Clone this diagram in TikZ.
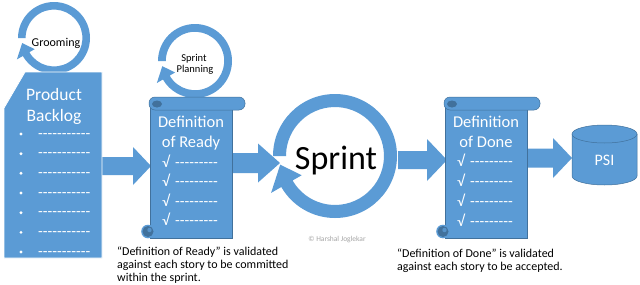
\documentclass[tikz,border=0pt]{standalone}
\usepackage{fontspec}
\setmainfont{Carlito}
\usetikzlibrary{calc}
\definecolor{obl}{HTML}{5B9BD5}
\definecolor{odk}{HTML}{41719C}
\definecolor{cgray}{HTML}{A6A6A6}
\newcommand{\fs}[1]{\fontsize{#1}{#1}\selectfont}
\newcommand{\hy}{-\kern0pt}
\newcommand{\dnine}{\hy\hy\hy\hy\hy\hy\hy\hy\hy}
\newcommand{\deleven}{\hy\hy\hy\hy\hy\hy\hy\hy\hy\hy\hy}
\newcommand{\cyclearrow}[2]{%
  \pgfmathsetmacro{\Ro}{#2}%
  \pgfmathsetmacro{\Ri}{0.79*#2}%
  \pgfmathsetmacro{\Rh}{1.19*#2}%
  \pgfmathsetmacro{\Rl}{0.62*#2}%
  \pgfmathsetmacro{\Rm}{0.895*#2}%
  \fill[obl] ($(#1)+(180:\Ro)$) arc[start angle=180, end angle=510, radius=\Ro]
     -- ($(#1)+(510:\Rh)$) -- ($(#1)+(531:\Rm)$) -- ($(#1)+(510:\Rl)$)
     -- ($(#1)+(510:\Ri)$) arc[start angle=510, end angle=180, radius=\Ri] -- cycle;
}
\newcommand{\blockarrow}[5]{%
  \fill[obl] ($(#1)+(0,-#3)$) -- ($(#2)+(-#5,-#3)$) -- ($(#2)+(-#5,-#4)$) -- (#2)
     -- ($(#2)+(-#5,#4)$) -- ($(#2)+(-#5,#3)$) -- ($(#1)+(0,#3)$) -- cycle;
}
\newcommand{\scrollshape}[4]{%
  \filldraw[fill=obl, draw=odk, line width=0.5] (#1,#3+6) rectangle (#2,#4);
  \fill[obl] (#1-2,#4-6.5) circle[radius=6.8];
  \fill[odk] (#1-2,#4-6.5) circle[radius=5.5];
  \fill[obl!80!odk] (#1-0.5,#4-8) circle[radius=2.2];
  \filldraw[fill=obl, draw=odk, line width=0.5, rounded corners=6] (#1-1,#3) rectangle (#2+13,#3+13);
  \fill[odk] (#1+7,#3+7) ellipse[x radius=5, y radius=3.5];
}
\tikzset{
  wt/.style={text=white, inner sep=0},
  bk/.style={text=black, inner sep=0},
}
\begin{document}
\begin{tikzpicture}[x=1pt, y=-1pt]
\useasboundingbox (0,0) rectangle (640,284);
\fill[white] (0,0) rectangle (640,284);

% cycle rings
\coordinate (groomc) at (54,38);
\coordinate (planc) at (195,61);
\coordinate (sprintc) at (335,156);
\cyclearrow{groomc}{36}
\cyclearrow{planc}{37}
\cyclearrow{sprintc}{62}

% connectors (block arrows)
\coordinate (a1s) at (102,166); \coordinate (a1t) at (151,166);
\coordinate (a2s) at (232,163); \coordinate (a2t) at (280,163);
\coordinate (a3s) at (398,160); \coordinate (a3t) at (447,160);
\coordinate (a4s) at (527,158); \coordinate (a4t) at (572,158);
\blockarrow{a1s}{a1t}{9}{19}{18}
\blockarrow{a2s}{a2t}{10}{19.5}{22}
\blockarrow{a3s}{a3t}{9}{21}{20}
\blockarrow{a4s}{a4t}{9.5}{20}{19}

% product backlog
\filldraw[fill=obl, draw=white, line width=0.8] (25,72) -- (102,72) -- (102,258) -- (4,258) -- (4,108) -- cycle;
\node[wt, font=\fs{17.5}, anchor=base] (pb1) at (54,100) {Product};
\node[wt, font=\fs{17.5}, anchor=base] (pb2) at (54,121) {Backlog};
\foreach \i in {0,...,6} {
  \fill[white] (21,134+19.67*\i) circle[radius=1.6];
  \node[wt, font=\fs{15.5}, anchor=base west] (bd\i) at (38,138+19.67*\i) {\deleven};
}

% scrolls
\scrollshape{150}{232}{97}{238}
\scrollshape{445}{527}{97}{238}
\node[wt, font=\fs{16.5}, anchor=base] (dor1) at (191,127) {Definition};
\node[wt, font=\fs{16.5}, anchor=base] (dor2) at (191,147) {of Ready};
\node[wt, font=\fs{16.5}, anchor=base] (dod1) at (486,127) {Definition};
\node[wt, font=\fs{16.5}, anchor=base] (dod2) at (486,147) {of Done};
\foreach \i/\y in {0/167,1/186,2/206,3/225} {
  \node[wt, font=\fs{15.5}, anchor=base west] (rc\i) at (162,\y) {√};
  \node[wt, font=\fs{15.5}, anchor=base west] (rd\i) at (175,\y) {\dnine};
}
\foreach \i/\y in {0/166,1/186,2/206,3/226} {
  \node[wt, font=\fs{15.5}, anchor=base west] (dc\i) at (457,\y) {√};
  \node[wt, font=\fs{15.5}, anchor=base west] (dd\i) at (470,\y) {\dnine};
}

% PSI cylinder
\filldraw[fill=obl, draw=odk, line width=0.5] (572,134) -- (572,176) arc[start angle=180, end angle=0, x radius=32.5, y radius=9] -- (637,134) -- cycle;
\filldraw[fill=obl, draw=odk, line width=0.5] (604.5,134) ellipse[x radius=32.5, y radius=9];
\node[wt, font=\fs{16}, anchor=base] (psi) at (604.5,165) {PSI};

% ring labels
\node[bk, font=\fs{12}, anchor=base] (groom) at (56,46) {Grooming};
\node[bk, font=\fs{10.5}, anchor=base] (plan1) at (194,61) {Sprint};
\node[bk, font=\fs{10.5}, anchor=base] (plan2) at (195,72) {Planning};
\node[bk, font=\fs{34}, anchor=base] (sprint) at (336,169) {Sprint};

% captions
\node[bk, font=\fs{12}, anchor=base west] (cr1) at (117,255) {“Definition of Ready” is validated};
\node[bk, font=\fs{12}, anchor=base west] (cr2) at (117,268) {against each story to be committed};
\node[bk, font=\fs{12}, anchor=base west] (cr3) at (117,281) {within the sprint.};
\node[bk, font=\fs{12}, anchor=base west] (cd1) at (397,257) {“Definition of Done” is validated};
\node[bk, font=\fs{12}, anchor=base west] (cd2) at (397,270) {against each story to be accepted.};
\node[text=cgray, inner sep=0, font=\fs{7.5}, anchor=base] (copy) at (337,241) {© Harshal Joglekar};
\end{tikzpicture}
\end{document}
